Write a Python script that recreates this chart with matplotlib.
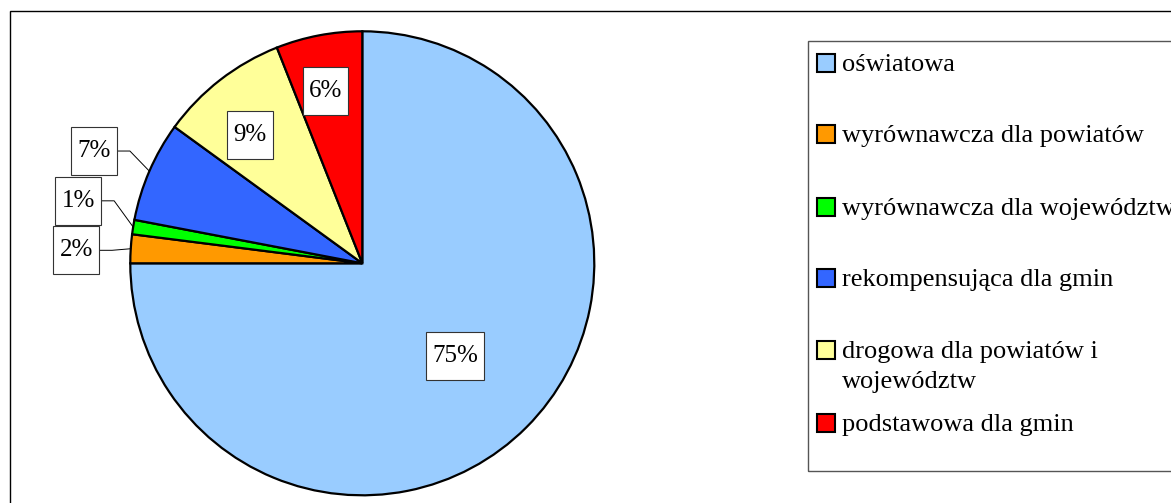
import numpy as np
import matplotlib.pyplot as plt
from matplotlib.patches import Rectangle

# udziały subwencji (w %)
kategorie = ['oświatowa', 'wyrównawcza dla powiatów', 'wyrównawcza dla województw',
             'rekompensująca dla gmin', 'drogowa dla powiatów i województw',
             'podstawowa dla gmin']
udzialy = [75, 2, 1, 7, 9, 6]
kolory = ['#99CCFF', '#FF9900', '#00FF00', '#3366FF', '#FFFF99', '#FF0000']
etykiety_legendy = ['oświatowa', 'wyrównawcza dla powiatów', 'wyrównawcza dla województw',
                    'rekompensująca dla gmin', 'drogowa dla powiatów i\nwojewództw',
                    'podstawowa dla gmin']

FONT = 'Liberation Serif'
W, H = 1171, 503

fig = plt.figure(figsize=(W / 100, H / 100), dpi=100)
ax = fig.add_axes([0, 0, 1, 1])

cx, cy, R = 362.3, H - 263.3, 232
wedges, _ = ax.pie(udzialy, colors=kolory, startangle=90, counterclock=False,
                   center=(cx, cy), radius=R,
                   wedgeprops=dict(edgecolor='black', linewidth=1.6))
ax.set_xlim(0, W)
ax.set_ylim(0, H)
ax.set_aspect('equal')
ax.axis('off')

renderer = fig.canvas.get_renderer()

# etykiety procentowe: wewnątrz dużych wycinków, na zewnątrz małych (z linią)
r_etykiet = [0.565, 1.235, 1.254, 1.254, 0.735, 0.76]
przesun_kat = [0, 1, -3.4, 0.7, 3.4, 1.2]
for w, v, rf, dk in zip(wedges, udzialy, r_etykiet, przesun_kat):
    mid = (w.theta1 + w.theta2) / 2
    a = np.deg2rad(mid + dk)
    lx, ly = cx + rf * R * np.cos(a), cy + rf * R * np.sin(a)
    t = ax.text(lx, ly, f'{v}%', ha='center', va='center', fontsize=18, family=FONT,
                zorder=6)
    # ramka etykiety: szersza w pionie niż w poziomie
    bb = t.get_window_extent(renderer)
    bw, bh = bb.width + 12, 48
    ax.add_patch(Rectangle((lx - bw / 2, ly - bh / 2), bw, bh, fc='white',
                           ec='#333333', lw=0.8, zorder=5))
    if rf > 1:
        am = np.deg2rad(mid)
        ex, ey = cx + R * np.cos(am), cy + R * np.sin(am)
        ax.plot([lx, lx + 36, ex], [ly, ly, ey], color='black', lw=0.7, zorder=4)

# ramka obszaru wykresu
ax.add_patch(Rectangle((10, -10), 1300, H - 11 + 10, fill=False, ec='black', lw=1))

# legenda
ax.add_patch(Rectangle((808, H - 471), 500, 471 - 41, fill=False, ec='#555555', lw=1))
srodki = [63, 134, 207, 278, 350, 423]
for y, kol, lab in zip(srodki, kolory, etykiety_legendy):
    ax.add_patch(Rectangle((817, H - y - 9), 18, 18, fc=kol, ec='black', lw=1.5))
    for i, linia in enumerate(lab.split('\n')):
        ax.text(842, H - y - 7.7 - i * 30.7, linia, fontsize=19, family=FONT,
                va='baseline', ha='left')

fig.savefig('out.png', dpi=100)
